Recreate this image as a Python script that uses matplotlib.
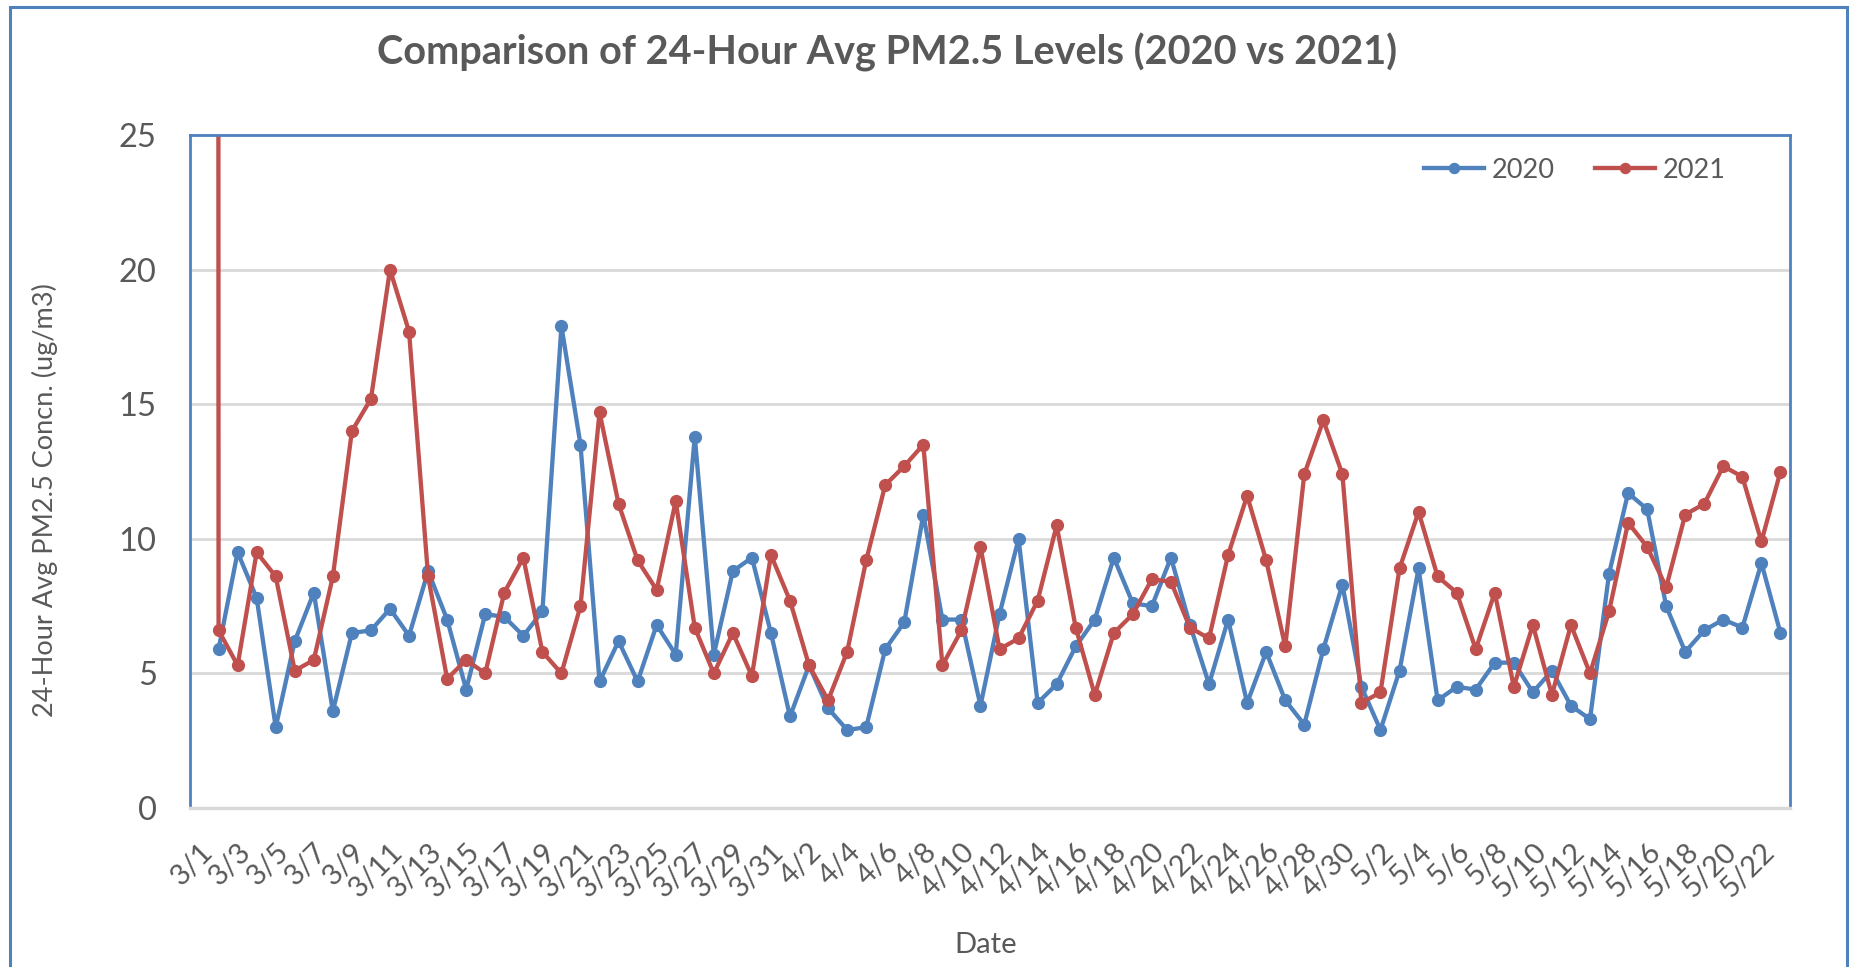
import numpy as np
import pandas as pd
import matplotlib
matplotlib.use("Agg")
import matplotlib.pyplot as plt
from matplotlib.patches import Rectangle

# daily categories 3/1 .. 5/23, labelled every second day
dates = pd.date_range("2021-03-01", "2021-05-23", freq="D")
date_labels = [f"{d.month}/{d.day}" for d in dates]

# 24-hour average PM2.5 (ug/m3); 3/1 has no 2020 value, the 2021 sheet
# has an off-scale entry there that draws the vertical spike at 3/2
pm_2020 = [np.nan,
           5.9, 9.5, 7.8, 3.0, 6.2, 8.0, 3.6, 6.5, 6.6, 7.4,
           6.4, 8.8, 7.0, 4.4, 7.2, 7.1, 6.4, 7.3, 17.9, 13.5,
           4.7, 6.2, 4.7, 6.8, 5.7, 13.8, 5.7, 8.8, 9.3, 6.5,
           3.4, 5.3, 3.7, 2.9, 3.0, 5.9, 6.9, 10.9, 7.0, 7.0,
           3.8, 7.2, 10.0, 3.9, 4.6, 6.0, 7.0, 9.3, 7.6, 7.5,
           9.3, 6.8, 4.6, 7.0, 3.9, 5.8, 4.0, 3.1, 5.9, 8.3,
           4.5, 2.9, 5.1, 8.9, 4.0, 4.5, 4.4, 5.4, 5.4, 4.3,
           5.1, 3.8, 3.3, 8.7, 11.7, 11.1, 7.5, 5.8, 6.6, 7.0,
           6.7, 9.1, 6.5]
pm_2021 = [2021.0,
           6.6, 5.3, 9.5, 8.6, 5.1, 5.5, 8.6, 14.0, 15.2, 20.0,
           17.7, 8.6, 4.8, 5.5, 5.0, 8.0, 9.3, 5.8, 5.0, 7.5,
           14.7, 11.3, 9.2, 8.1, 11.4, 6.7, 5.0, 6.5, 4.9, 9.4,
           7.7, 5.3, 4.0, 5.8, 9.2, 12.0, 12.7, 13.5, 5.3, 6.6,
           9.7, 5.9, 6.3, 7.7, 10.5, 6.7, 4.2, 6.5, 7.2, 8.5,
           8.4, 6.7, 6.3, 9.4, 11.6, 9.2, 6.0, 12.4, 14.4, 12.4,
           3.9, 4.3, 8.9, 11.0, 8.6, 8.0, 5.9, 8.0, 4.5, 6.8,
           4.2, 6.8, 5.0, 7.3, 10.6, 9.7, 8.2, 10.9, 11.3, 12.7,
           12.3, 9.9, 12.5]

BLUE = "#4f81bd"
RED = "#c0504d"
TXT = "#595959"
GRID = "#d9d9d9"
FONT = ["Lato", "DejaVu Sans"]

plt.rcParams["font.family"] = FONT

W, H = 1852, 967
fig = plt.figure(figsize=(W / 100, H / 100), dpi=100)

# outer chart frame (runs off the bottom of the screenshot)
fig.patches.append(Rectangle((10 / W, -0.05), 1837 / W, 1.05 - 7 / H,
                             transform=fig.transFigure, fill=False,
                             edgecolor=BLUE, linewidth=2.2))

ax = fig.add_axes([190 / W, 1 - 808 / H, 1600 / W, 673 / H])
x = np.arange(len(dates))
ax.plot(x, pm_2020, color=BLUE, lw=3.1, marker="o", ms=8.5, label="2020",
        solid_joinstyle="round")
ax.plot(x, pm_2021, color=RED, lw=3.1, marker="o", ms=8.5, label="2021",
        solid_joinstyle="round")

ax.set_xlim(-0.5, len(dates) - 0.5)
ax.set_ylim(0, 25)
ax.set_yticks([0, 5, 10, 15, 20, 25])
ax.yaxis.grid(True, color=GRID, lw=2)
ax.set_axisbelow(True)
ax.tick_params(axis="y", length=0, pad=24, labelsize=23.5, labelcolor=TXT)

ax.set_xticks(x[::2])
ax.set_xticklabels(date_labels[::2], rotation=45, ha="right", va="top",
                   rotation_mode="anchor")
ax.tick_params(axis="x", length=0, pad=22, labelsize=21, labelcolor=TXT)

for side in ["left", "top", "right"]:
    ax.spines[side].set_color(BLUE)
    ax.spines[side].set_linewidth(2)
ax.spines["bottom"].set_color(GRID)
ax.spines["bottom"].set_linewidth(2.5)

leg = ax.legend(loc="center", bbox_to_anchor=(1575 / W, 1 - 170 / H),
                bbox_transform=fig.transFigure, ncol=2, frameon=False,
                fontsize=19.5, handlelength=2.2, handletextpad=0.3,
                columnspacing=1.5, markerscale=0.85)
for t in leg.get_texts():
    t.set_color(TXT)

fig.text(887 / W, 1 - 52 / H,
         "Comparison of 24-Hour Avg PM2.5 Levels (2020 vs 2021)",
         ha="center", va="center", fontsize=28.5, fontweight="bold", color=TXT)
fig.text(986 / W, 1 - 945 / H, "Date", ha="center", va="center",
         fontsize=21, color=TXT)
fig.text(45 / W, 1 - 500 / H, "24-Hour Avg PM2.5 Concn. (ug/m3)",
         ha="center", va="center", rotation=90, fontsize=19.5, color=TXT)

fig.savefig("out.png", dpi=100)
